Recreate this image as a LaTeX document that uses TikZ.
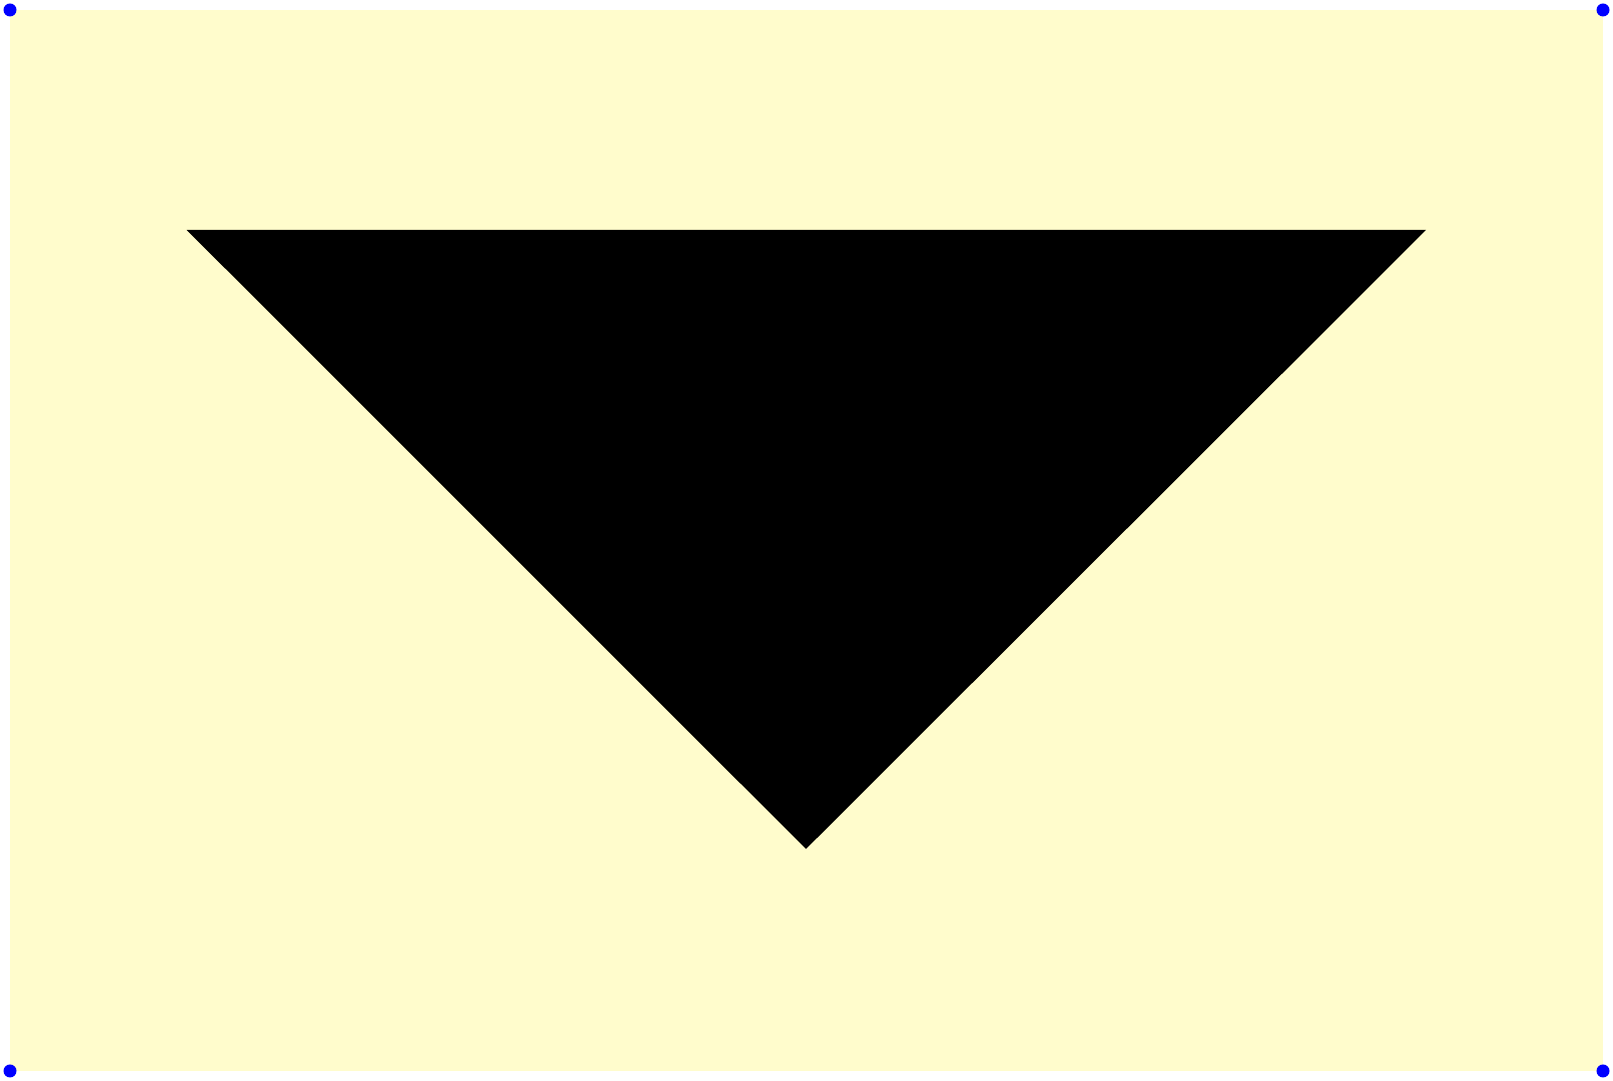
\documentclass[tikz,border=0pt]{standalone}
\usetikzlibrary{positioning}

\begin{document}
\begin{tikzpicture}[
  x=1cm, y=1cm,
  sheet/.style={fill=yellow!20, draw=none},
  corner/.style={circle, fill=blue, inner sep=0pt, minimum size=1.3mm},
  wedge/.style={fill=black, draw=none},
]
  \useasboundingbox (0,0) rectangle (16.13,10.81);

  \coordinate (sw) at (0.10,0.10);
  \coordinate (ne) at (16.03,10.71);
  \fill[sheet] (sw) rectangle (ne);

  \fill[wedge] (1.867,8.51) -- (14.26,8.51) -- (8.06,2.32) -- cycle;

  \node[corner] (dsw) at (sw) {};
  \node[corner] (dse) at (ne |- sw) {};
  \node[corner] (dnw) at (sw |- ne) {};
  \node[corner] (dne) at (ne) {};
\end{tikzpicture}
\end{document}
